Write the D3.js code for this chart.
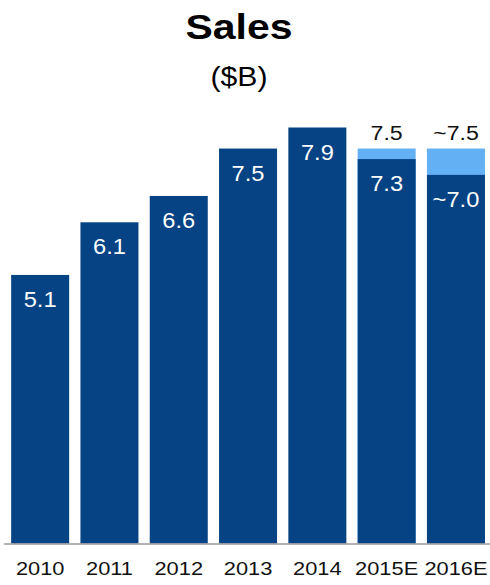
<!DOCTYPE html>
<html>
<head>
<meta charset="utf-8">
<script src="https://cdn.jsdelivr.net/npm/d3@7"></script>
<style>
  body { margin: 0; background: #fff; }
  svg { font-family: "Liberation Sans", Arial, Helvetica, sans-serif; display: block; }
</style>
</head>
<body>
<div id="holder"></div>
<script>
// data
const years = ["2010", "2011", "2012", "2013", "2014", "2015E", "2016E"];
const sales = [5.1, 6.1, 6.6, 7.5, 7.9, 7.3, 7.0];          // dark bars
const salesLabels = ["5.1", "6.1", "6.6", "7.5", "7.9", "7.3", "~7.0"];
const upside = [null, null, null, null, null, 7.5, 7.5];    // light top segment (total)
const upsideLabels = [null, null, null, null, null, "7.5", "~7.5"];

const w = 490;
const h = 585;
const baseY = 543.5;

const svg = d3.select("#holder")
    .append("svg")
    .attr("width", w)
    .attr("height", h);

const xScale = d3.scaleBand()
    .domain(years)
    .range([5.5, 490.6])
    .paddingInner(0.163)
    .paddingOuter(0.0815);

const yScale = d3.scaleLinear()
    .domain([0, 7.9])
    .range([baseY, 127.5]);

// the source text is a bit wider than Arial, so stretch it
function place(sel, fx, fy, sx) {
    sel.attr("transform", (d, i) => "translate(" + fx(d, i) + "," + fy(d, i) + ") scale(" + sx + ",1)")
        .attr("text-anchor", "middle");
}

// title
svg.append("text")
    .datum(0)
    .call(place, () => 239, () => 38.5, 1.17)
    .style("font-weight", "bold")
    .style("font-size", "35px")
    .text("Sales");

svg.append("text")
    .datum(0)
    .call(place, () => 239, () => 86, 1.12)
    .style("font-size", "27px")
    .text("($B)");

const est = years.map((y, i) => ({year: y, v: upside[i], label: upsideLabels[i]})).filter(d => d.v != null);
const main = years.map((y, i) => ({year: y, v: sales[i], label: salesLabels[i]}));
const cx = d => xScale(d.year) + xScale.bandwidth() / 2;

// light segments (estimate range)
svg.selectAll("rect.up")
    .data(est)
    .enter()
    .append("rect")
    .attr("class", "up")
    .attr("x", d => xScale(d.year))
    .attr("width", xScale.bandwidth())
    .attr("y", d => yScale(d.v))
    .attr("height", d => baseY - yScale(d.v))
    .attr("fill", "#63b0f5");

// dark bars
svg.selectAll("rect.bar")
    .data(main)
    .enter()
    .append("rect")
    .attr("class", "bar")
    .attr("x", d => xScale(d.year))
    .attr("width", xScale.bandwidth())
    .attr("y", d => yScale(d.v))
    .attr("height", d => baseY - yScale(d.v))
    .attr("fill", "#064384");

// labels inside bars
svg.selectAll("text.val")
    .data(main)
    .enter()
    .append("text")
    .attr("class", "val")
    .call(place, cx, d => yScale(d.v) + 32, 1.1)
    .attr("fill", "#fff")
    .style("font-size", "21.5px")
    .text(d => d.label);

// labels above estimate bars
svg.selectAll("text.top")
    .data(est)
    .enter()
    .append("text")
    .attr("class", "top")
    .call(place, cx, d => yScale(d.v) - 8.5, 1.1)
    .attr("fill", "#111")
    .style("font-size", "21px")
    .text(d => d.label);

// baseline
svg.append("line")
    .attr("x1", 4)
    .attr("x2", w)
    .attr("y1", baseY + 0.5)
    .attr("y2", baseY + 0.5)
    .attr("stroke", "#9a9a9a")
    .attr("stroke-width", 1.5);

// x axis labels
const xAxis = d3.axisBottom(xScale).tickSize(0).tickPadding(0);
const gx = svg.append("g")
    .attr("transform", "translate(0," + baseY + ")")
    .call(xAxis);
gx.select(".domain").remove();
gx.selectAll("text")
    .attr("dy", null)
    .attr("y", 31.5)
    .attr("transform", "scale(1.18,1)")
    .attr("x", 0)
    .attr("fill", "#111")
    .style("font-family", "\"Liberation Sans\", Arial, sans-serif")
    .style("font-size", "18.5px");
</script>
</body>
</html>
